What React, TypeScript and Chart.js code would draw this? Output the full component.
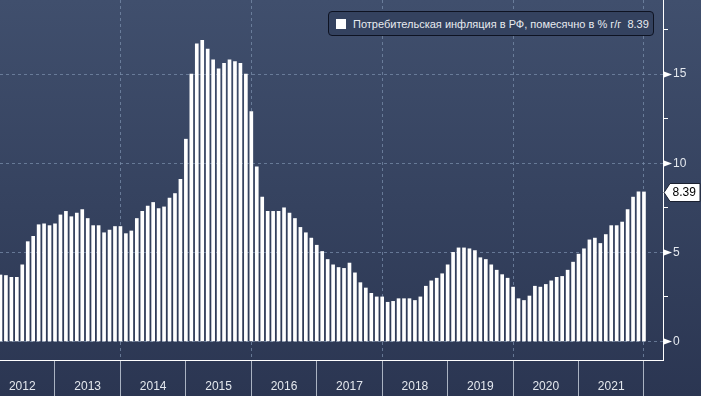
import React, { useEffect, useRef } from 'react';
import { Chart, registerables } from 'chart.js';

Chart.register(...registerables);

// ---- data (year-over-year CPI, %, month-end points) ----
const cpi2012 = [3.73, 3.7, 3.6, 3.6, 4.3, 5.6, 5.9, 6.55, 6.6, 6.5, 6.6]; // Feb..Dec
const cpi2013 = [7.1, 7.3, 7.0, 7.2, 7.4, 6.9, 6.5, 6.5, 6.1, 6.25, 6.45, 6.45];
const cpi2014 = [6.05, 6.2, 6.9, 7.3, 7.6, 7.8, 7.45, 7.55, 8.05, 8.3, 9.1, 11.35];
const cpi2015 = [15.0, 16.7, 16.9, 16.4, 15.8, 15.3, 15.6, 15.8, 15.7, 15.6, 15.0, 12.9];
const cpi2016 = [9.8, 8.1, 7.3, 7.3, 7.3, 7.5, 7.2, 6.9, 6.4, 6.1, 5.8, 5.4];
const cpi2017 = [5.05, 4.6, 4.3, 4.15, 4.1, 4.4, 3.85, 3.3, 3.0, 2.7, 2.5, 2.5];
const cpi2018 = [2.2, 2.25, 2.4, 2.4, 2.4, 2.3, 2.5, 3.1, 3.4, 3.55, 3.8, 4.3];
const cpi2019 = [5.0, 5.25, 5.25, 5.2, 5.1, 4.7, 4.6, 4.3, 4.0, 3.75, 3.55, 3.05];
const cpi2020 = [2.4, 2.3, 2.55, 3.1, 3.05, 3.2, 3.4, 3.6, 3.65, 4.0, 4.45, 4.9];
const cpi2021 = [5.2, 5.7, 5.8, 5.5, 6.0, 6.5, 6.5, 6.7, 7.4, 8.1, 8.4, 8.39];

const years = [2012, 2013, 2014, 2015, 2016, 2017, 2018, 2019, 2020, 2021];
const yearlySeries = [cpi2012, cpi2013, cpi2014, cpi2015, cpi2016, cpi2017, cpi2018, cpi2019, cpi2020, cpi2021];

const yearBoundaries = [2012, 2013, 2014, 2015, 2016, 2017, 2018, 2019, 2020, 2021, 2022];
const yTickValues = [0, 2.5, 5, 7.5, 10, 12.5, 15, 17.5];
const seriesLabel = 'Потребительская инфляция в РФ, помесячно в % г/г';
const lastValue = 8.39;

const FONT = '"Liberation Sans", Arial, sans-serif';

function buildPoints() {
  const pts: { x: number; y: number }[] = [];
  years.forEach((year, yi) => {
    const values = yearlySeries[yi];
    const firstMonth = 12 - values.length + 1;
    values.forEach((v, i) => {
      pts.push({ x: year + (firstMonth + i) / 12, y: v });
    });
  });
  return pts;
}

const decorPlugin = {
  id: 'decor',
  beforeDraw(chart: any) {
    const { ctx, width, height } = chart;
    ctx.save();
    const g = ctx.createLinearGradient(0, 0, 0, height);
    g.addColorStop(0, '#404f6d');
    g.addColorStop(1, '#2b3652');
    ctx.fillStyle = g;
    ctx.fillRect(0, 0, width, height);
    ctx.restore();
  },
  afterDraw(chart: any) {
    const { ctx } = chart;
    const ys = chart.scales.y;
    const left = ys.left;
    ctx.save();
    // arrow markers on major ticks
    ctx.fillStyle = '#ffffff';
    yTickValues.forEach((v) => {
      if (v % 5 !== 0) return;
      const py = Math.round(ys.getPixelForValue(v)) + 0.5;
      ctx.beginPath();
      ctx.moveTo(left + 1, py - 3);
      ctx.lineTo(left + 9, py);
      ctx.lineTo(left + 1, py + 3);
      ctx.closePath();
      ctx.fill();
    });
    // last value label
    const py = Math.round(ys.getPixelForValue(lastValue)) + 0.5;
    ctx.beginPath();
    ctx.moveTo(left + 1, py);
    ctx.lineTo(left + 7, py - 9);
    ctx.lineTo(left + 37, py - 9);
    ctx.lineTo(left + 37, py + 9);
    ctx.lineTo(left + 7, py + 9);
    ctx.closePath();
    ctx.fillStyle = '#ffffff';
    ctx.fill();
    ctx.strokeStyle = '#1a2030';
    ctx.lineWidth = 1;
    ctx.stroke();
    ctx.fillStyle = '#000000';
    ctx.font = '12px ' + FONT;
    ctx.textBaseline = 'middle';
    ctx.textAlign = 'left';
    ctx.fillText(lastValue.toFixed(2), left + 9.5, py + 0.5);
    ctx.restore();
  },
};

export default function App() {
  const canvasRef = useRef<HTMLCanvasElement | null>(null);

  useEffect(() => {
    document.body.style.margin = '0';
    const canvas = canvasRef.current;
    if (!canvas) return;
    const gridDash = 'rgba(120,140,170,0.75)';
    const chart = new Chart(canvas, {
      type: 'bar',
      data: {
        datasets: [
          {
            label: seriesLabel,
            data: buildPoints(),
            backgroundColor: '#ffffff',
            borderWidth: 0,
            barThickness: 3,
          },
        ],
      },
      options: {
        animation: false,
        responsive: true,
        maintainAspectRatio: false,
        layout: { padding: 0 },
        plugins: {
          legend: { display: false },
          tooltip: { enabled: false },
        },
        scales: {
          x: {
            type: 'linear',
            min: 2012.1596,
            max: 2022.291,
            offset: false,
            afterBuildTicks: (scale: any) => {
              scale.ticks = yearBoundaries.map((v) => ({ value: v }));
            },
            afterFit: (scale: any) => {
              scale.height = 36;
              scale.paddingLeft = 0;
              scale.paddingRight = 0;
            },
            grid: {
              offset: false,
              color: (c: any) => (c.tick && c.tick.value % 2 === 0 ? gridDash : 'transparent'),
              lineWidth: 1,
              drawTicks: true,
              tickLength: 36,
              tickColor: '#aab3c2',
              tickWidth: 1,
            },
            border: { display: true, color: '#ffffff', width: 1, dash: [3, 3] },
            ticks: {
              autoSkip: false,
              maxRotation: 0,
              padding: -17,
              labelOffset: 32.7,
              color: '#e4e8ee',
              font: { family: FONT, size: 12 },
              callback: (v: any) => (Number(v) < 2022 ? String(v) : ''),
            },
          },
          y: {
            type: 'linear',
            position: 'right',
            min: -1.04,
            max: 19.16,
            afterBuildTicks: (scale: any) => {
              scale.ticks = yTickValues.map((v) => ({ value: v }));
            },
            afterFit: (scale: any) => {
              scale.width = 38;
              scale.paddingTop = 0;
              scale.paddingBottom = 0;
            },
            grid: {
              color: (c: any) => (c.tick && c.tick.value % 5 === 0 ? gridDash : 'transparent'),
              lineWidth: 1,
              drawTicks: true,
              tickLength: 5,
              tickColor: (c: any) => (c.tick && c.tick.value % 5 === 0 ? 'transparent' : '#ffffff'),
              tickWidth: 1,
            },
            border: { display: true, color: '#ffffff', width: 1, dash: [3, 3] },
            ticks: {
              padding: 5,
              color: '#e4e8ee',
              font: { family: FONT, size: 12 },
              callback: (v: any) => (Number(v) % 5 === 0 ? String(v) : ''),
            },
          },
        },
      },
      plugins: [decorPlugin],
    } as any);
    return () => chart.destroy();
  }, []);

  return (
    <div style={{ position: 'fixed', left: 0, top: 0, width: 701, height: 396, background: '#2b3652' }}>
      <canvas ref={canvasRef} />
      <div
        style={{
          position: 'absolute',
          left: 328,
          top: 11,
          width: 326,
          height: 25,
          boxSizing: 'border-box',
          border: '1px solid #0e1322',
          borderRadius: 4,
          background: '#34425f',
          display: 'flex',
          alignItems: 'center',
          paddingLeft: 7,
          fontFamily: FONT,
          fontSize: 11,
          color: '#e8ebf0',
          whiteSpace: 'pre',
        }}
      >
        <span style={{ display: 'inline-block', width: 10, height: 10, background: '#ffffff', marginRight: 7 }} />
        <span>{seriesLabel + '  ' + lastValue.toFixed(2)}</span>
      </div>
    </div>
  );
}
